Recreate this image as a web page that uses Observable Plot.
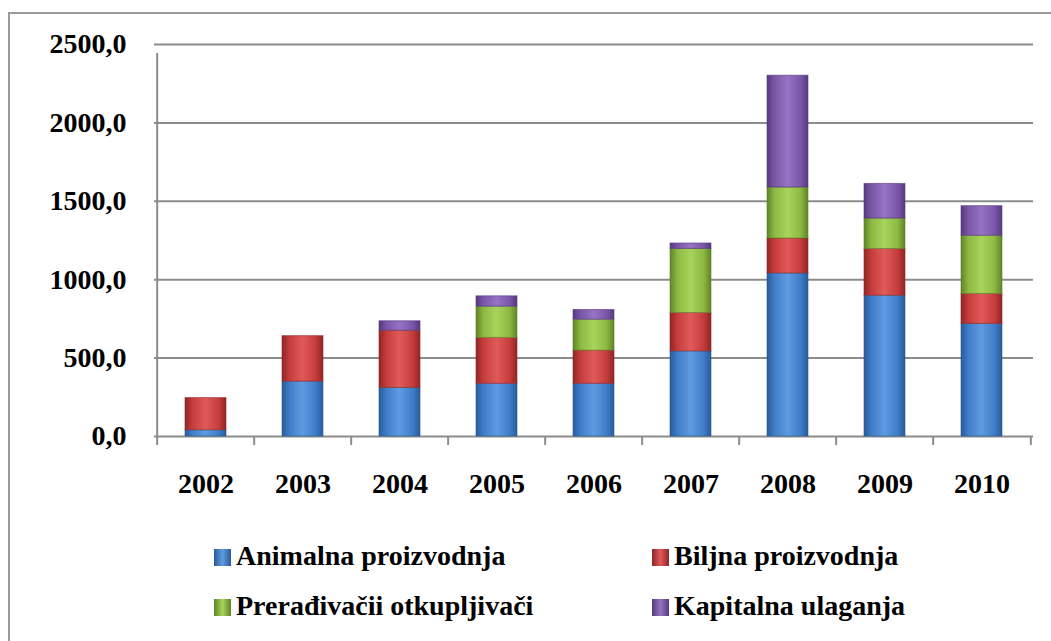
<!DOCTYPE html>
<html>
<head>
<meta charset="utf-8">
<script src="https://cdn.jsdelivr.net/npm/d3@7"></script>
<script src="https://cdn.jsdelivr.net/npm/@observablehq/plot@0.6"></script>
<style>
  html, body { margin: 0; padding: 0; background: #fff; }
  #wrap { position: relative; width: 1051px; height: 641px; overflow: hidden; background: #fff; }
  #frame { position: absolute; left: 8px; top: 12px; width: 1100px; height: 700px;
           border-left: 2px solid #9a9a9a; border-top: 2px solid #9a9a9a; box-sizing: border-box; }
  #chart { position: absolute; left: 0; top: 0; }
  .leg { position: absolute; font-family: "Liberation Serif", serif; font-weight: bold;
         font-size: 28px; line-height: 30px; color: #000; white-space: nowrap; }
  .sw { display: inline-block; width: 17px; height: 17px; vertical-align: -1px; margin-right: 5px; }
</style>
</head>
<body>
<div id="wrap">
  <div id="frame"></div>
  <div id="chart"></div>
  <div id="legend"></div>
</div>
<script>
const years = [2002, 2003, 2004, 2005, 2006, 2007, 2008, 2009, 2010];
const seriesNames = ["Animalna proizvodnja", "Biljna proizvodnja", "Prerađivačii otkupljivači", "Kapitalna ulaganja"];
const animalna  = [40, 350, 310, 336, 336, 543, 1040, 898, 718];
const biljna    = [205, 290, 365, 293, 212, 245, 223, 298, 191];
const preradj   = [0, 0, 0, 199, 197, 408, 325, 194, 371];
const kapitalna = [0, 0, 60, 66, 62, 35, 713, 221, 189];
const yTicks = [0, 500, 1000, 1500, 2000, 2500];

const baseColors = ["#3f7dc8", "#c63c3c", "#8db843", "#7b56a8"];
const darkColors = ["#2a5a98", "#8f2626", "#5f8428", "#553a7d"];
const lightColors = ["#5f9be0", "#e05a5a", "#a9d45a", "#9673c4"];

const seriesValues = [animalna, biljna, preradj, kapitalna];
const data = [];
seriesNames.forEach((s, i) => {
  years.forEach((y, j) => data.push({year: String(y), series: s, value: seriesValues[i][j]}));
});

const W = 1051, H = 510, ML = 154, MR = 18, MT = 44, MB = 74;
const step = (W - ML - MR) / years.length;
const yearStr = years.map(String);

const chart = Plot.plot({
  width: W, height: H,
  marginLeft: ML, marginRight: MR, marginTop: MT, marginBottom: MB,
  style: {fontFamily: "'Liberation Serif', serif", fontWeight: "bold", fontSize: "28px", color: "#000", background: "transparent", overflow: "visible"},
  x: {domain: yearStr, paddingInner: 0.58, paddingOuter: 0.29, axis: null},
  y: {domain: [0, 2500], axis: null},
  color: {domain: seriesNames, range: seriesNames.map((_, i) => `url(#grad${i})`)},
  marks: [
    Plot.ruleY(yTicks, {y: d => d, stroke: "#8c8c8c", strokeWidth: 2}),
    Plot.ruleY(yTicks, {y: d => d, x1: yearStr[0], x2: yearStr[0], dx: -step / 2, insetLeft: -9, stroke: "#8c8c8c", strokeWidth: 2}),
    Plot.barY(data, {x: "year", y: "value", fill: "series", stroke: d => darkColors[seriesNames.indexOf(d.series)], strokeWidth: 1, strokeOpacity: 0.6}),
    Plot.ruleX(yearStr, {x: d => d, y1: 0, y2: 0, dx: -step / 2, insetBottom: -9, stroke: "#8c8c8c", strokeWidth: 2}),
    Plot.ruleX([yearStr[yearStr.length - 1]], {x: d => d, y1: 0, y2: 0, dx: step / 2, insetBottom: -9, stroke: "#8c8c8c", strokeWidth: 2}),
    Plot.ruleX([yearStr[0]], {x: d => d, y1: 0, y2: 2500, dx: -step / 2, insetBottom: -9, stroke: "#8c8c8c", strokeWidth: 2}),
    Plot.axisY({ticks: yTicks, label: null, tickSize: 0, tickPadding: 28, tickFormat: d => d3.format(".1f")(d).replace(".", ","), fill: "#000", fontSize: 28, fontWeight: "bold"}),
    Plot.axisX({label: null, tickSize: 0, tickPadding: 37, fill: "#000", fontSize: 28, fontWeight: "bold"})
  ]
});

// gradient definitions (horizontal shading like the bevelled bars)
const ns = "http://www.w3.org/2000/svg";
const defs = document.createElementNS(ns, "defs");
seriesNames.forEach((_, i) => {
  const g = document.createElementNS(ns, "linearGradient");
  g.setAttribute("id", `grad${i}`);
  g.setAttribute("x1", "0"); g.setAttribute("x2", "1"); g.setAttribute("y1", "0"); g.setAttribute("y2", "0");
  [[0, darkColors[i]], [0.18, baseColors[i]], [0.5, lightColors[i]], [0.82, baseColors[i]], [1, darkColors[i]]].forEach(([o, c]) => {
    const st = document.createElementNS(ns, "stop");
    st.setAttribute("offset", o); st.setAttribute("stop-color", c);
    g.appendChild(st);
  });
  defs.appendChild(g);
});
chart.insertBefore(defs, chart.firstChild);
document.getElementById("chart").appendChild(chart);

// legend
const legendPos = [[214, 541], [652, 541], [214, 591], [652, 591]];
const legend = document.getElementById("legend");
seriesNames.forEach((s, i) => {
  const d = document.createElement("div");
  d.className = "leg";
  d.style.left = legendPos[i][0] + "px";
  d.style.top = legendPos[i][1] + "px";
  const sw = document.createElement("span");
  sw.className = "sw";
  sw.style.background = `linear-gradient(90deg, ${darkColors[i]}, ${lightColors[i]} 50%, ${darkColors[i]})`;
  d.appendChild(sw);
  d.appendChild(document.createTextNode(s));
  legend.appendChild(d);
});
</script>
</body>
</html>
